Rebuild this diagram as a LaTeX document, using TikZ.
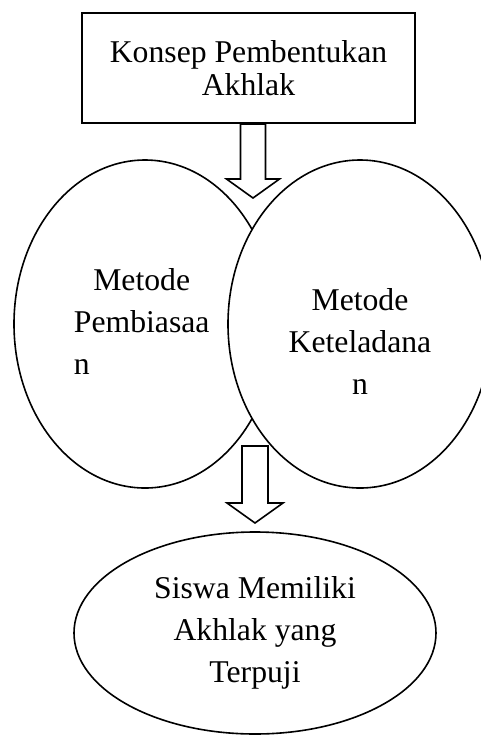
\documentclass[tikz,border=0pt]{standalone}
\usepackage{fontspec}
\setmainfont{Liberation Serif}
\usetikzlibrary{shapes.geometric}

\begin{document}
\begin{tikzpicture}[
  x=0.5pt, y=-0.5pt,
  line width=0.8pt,
  box/.style={rectangle, draw, line width=1pt, minimum width=166.5pt, minimum height=55pt, align=center, inner sep=0pt, font=\fontsize{15.85}{16.5}\selectfont},
  oval/.style={ellipse, draw, fill=white, inner sep=0pt},
  txt/.style={align=center, inner sep=0pt, font=\fontsize{15.85}{21}\selectfont},
  hollow/.style={draw, fill=white, line join=miter}
]
\useasboundingbox (0,0) rectangle (481,736);

% Nodes
\node[box] (konsep) at (248.5,68) {Konsep Pembentukan\\Akhlak};
\node[oval, minimum width=131pt, minimum height=164pt] (pembiasaan) at (145,324) {};
\node[txt] (pembiasaanText) at (141.7,321.5) {Metode\\Pembiasaa\\\rlap{n}\phantom{Pembiasaa}};
\node[oval, minimum width=132pt, minimum height=164pt] (keteladanan) at (360,324) {};
\node[txt] (keteladananText) at (360,341.5) {Metode\\Keteladana\\n};
\node[oval, txt, minimum width=181pt, minimum height=101pt] (siswa) at (255,633) {Siswa Memiliki\\Akhlak yang\\Terpuji};

% Arrows
\coordinate (arrA) at ([xshift=2.25pt]konsep.south);
\coordinate (arrB) at (255,446);
\draw[hollow] (arrA) ++(-12.5,0) -- ++(0,55) -- ++(-14,0) -- ++(26.5,19) -- ++(26.5,-19) -- ++(-14,0) -- ++(0,-55) -- cycle;
\draw[hollow] (arrB) ++(-13,0) -- ++(0,57) -- ++(-15,0) -- ++(28,20) -- ++(28,-20) -- ++(-15,0) -- ++(0,-57) -- cycle;

\end{tikzpicture}
\end{document}
